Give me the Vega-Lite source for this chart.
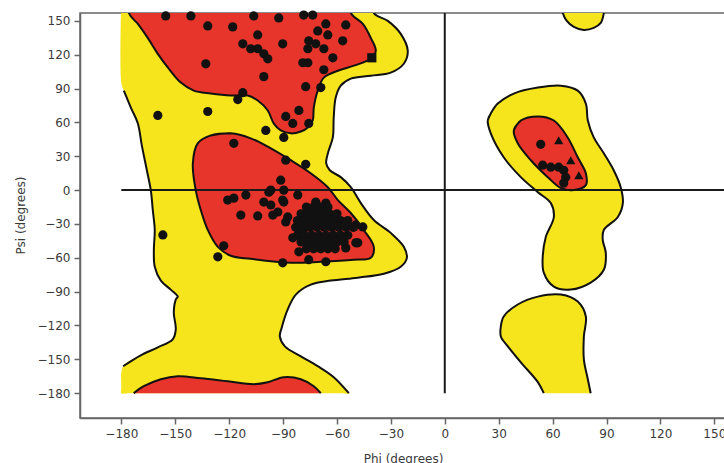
{
  "$schema": "https://vega.github.io/schema/vega-lite/v6.json",
  "width": 646,
  "height": 405,
  "autosize": "none",
  "padding": {"left": 80, "top": 13, "right": 0, "bottom": 45},
  "background": "white",
  "config": {
    "font": "DejaVu Sans",
    "view": {"stroke": "#666", "strokeWidth": 1.5},
    "axis": {"grid": false, "labelFontSize": 12, "titleFontSize": 12, "titleFontWeight": "normal", "labelColor": "#3a3a3a", "titleColor": "#3a3a3a", "domainColor": "#666", "tickColor": "#666", "domainWidth": 1.5, "tickWidth": 1.5, "tickSize": 6, "labelPadding": 4}
  },
  "datasets": {
    "poly": [
      {"g":"Y1","c":"y","s":null,"i":0,"phi":-180,"psi":180},
      {"g":"Y1","c":"y","s":"Y1a","i":1,"phi":-40,"psi":180},
      {"g":"Y1","c":"y","s":"Y1a","i":2,"phi":-39.5,"psi":157},
      {"g":"Y1","c":"y","s":"Y1a","i":3,"phi":-31.7,"psi":150},
      {"g":"Y1","c":"y","s":"Y1a","i":4,"phi":-24.5,"psi":138.5},
      {"g":"Y1","c":"y","s":"Y1a","i":5,"phi":-20.6,"psi":123.5},
      {"g":"Y1","c":"y","s":"Y1a","i":6,"phi":-22.8,"psi":112},
      {"g":"Y1","c":"y","s":"Y1a","i":7,"phi":-30.1,"psi":104.1},
      {"g":"Y1","c":"y","s":"Y1a","i":8,"phi":-41.2,"psi":101.4},
      {"g":"Y1","c":"y","s":"Y1a","i":9,"phi":-52.3,"psi":98.8},
      {"g":"Y1","c":"y","s":"Y1a","i":10,"phi":-57.9,"psi":92.6},
      {"g":"Y1","c":"y","s":"Y1a","i":11,"phi":-60.7,"psi":82},
      {"g":"Y1","c":"y","s":"Y1a","i":12,"phi":-61.8,"psi":64.4},
      {"g":"Y1","c":"y","s":"Y1a","i":13,"phi":-62.3,"psi":46.7},
      {"g":"Y1","c":"y","s":"Y1a","i":14,"phi":-65,"psi":33},
      {"g":"Y1","c":"y","s":"Y1a","i":15,"phi":-66,"psi":24},
      {"g":"Y1","c":"y","s":"Y1a","i":16,"phi":-64,"psi":17.6},
      {"g":"Y1","c":"y","s":"Y1a","i":17,"phi":-57.9,"psi":11.5},
      {"g":"Y1","c":"y","s":"Y1a","i":18,"phi":-52.3,"psi":2.6},
      {"g":"Y1","c":"y","s":"Y1a","i":19,"phi":-46.7,"psi":-11.5},
      {"g":"Y1","c":"y","s":"Y1a","i":20,"phi":-39.5,"psi":-26.5},
      {"g":"Y1","c":"y","s":"Y1a","i":21,"phi":-30.1,"psi":-37.9},
      {"g":"Y1","c":"y","s":"Y1a","i":22,"phi":-22.8,"psi":-50.3},
      {"g":"Y1","c":"y","s":"Y1a","i":23,"phi":-21.1,"psi":-60},
      {"g":"Y1","c":"y","s":"Y1a","i":24,"phi":-24.5,"psi":-67.9},
      {"g":"Y1","c":"y","s":"Y1a","i":25,"phi":-33.9,"psi":-74.1},
      {"g":"Y1","c":"y","s":"Y1a","i":26,"phi":-48.4,"psi":-77.6},
      {"g":"Y1","c":"y","s":"Y1a","i":27,"phi":-63.4,"psi":-80.2},
      {"g":"Y1","c":"y","s":"Y1a","i":28,"phi":-74.6,"psi":-83.8},
      {"g":"Y1","c":"y","s":"Y1a","i":29,"phi":-82.9,"psi":-92.6},
      {"g":"Y1","c":"y","s":"Y1a","i":30,"phi":-87.4,"psi":-105.8},
      {"g":"Y1","c":"y","s":"Y1a","i":31,"phi":-90.7,"psi":-121.7},
      {"g":"Y1","c":"y","s":"Y1a","i":32,"phi":-91.8,"psi":-129.7},
      {"g":"Y1","c":"y","s":"Y1a","i":33,"phi":-89,"psi":-138.5},
      {"g":"Y1","c":"y","s":"Y1a","i":34,"phi":-80.1,"psi":-147.3},
      {"g":"Y1","c":"y","s":"Y1a","i":35,"phi":-70.7,"psi":-156.1},
      {"g":"Y1","c":"y","s":"Y1a","i":36,"phi":-61.8,"psi":-165.8},
      {"g":"Y1","c":"y","s":"Y1a","i":37,"phi":-53.4,"psi":-180},
      {"g":"Y1","c":"y","s":null,"i":38,"phi":-58,"psi":-180},
      {"g":"Y1","c":"y","s":null,"i":39,"phi":-175,"psi":-180},
      {"g":"Y1","c":"y","s":null,"i":40,"phi":-180,"psi":-180},
      {"g":"Y1","c":"y","s":null,"i":41,"phi":-180,"psi":-175},
      {"g":"Y1","c":"y","s":"Y1b","i":42,"phi":-179,"psi":-156.1},
      {"g":"Y1","c":"y","s":"Y1b","i":43,"phi":-169.2,"psi":-146.4},
      {"g":"Y1","c":"y","s":"Y1b","i":44,"phi":-159.7,"psi":-139.4},
      {"g":"Y1","c":"y","s":"Y1b","i":45,"phi":-151.4,"psi":-132.3},
      {"g":"Y1","c":"y","s":"Y1b","i":46,"phi":-149.7,"psi":-123.5},
      {"g":"Y1","c":"y","s":"Y1b","i":47,"phi":-150.8,"psi":-108.5},
      {"g":"Y1","c":"y","s":"Y1b","i":48,"phi":-149.7,"psi":-97},
      {"g":"Y1","c":"y","s":"Y1b","i":49,"phi":-148.6,"psi":-94.4},
      {"g":"Y1","c":"y","s":"Y1b","i":50,"phi":-152.5,"psi":-88.2},
      {"g":"Y1","c":"y","s":"Y1b","i":51,"phi":-158,"psi":-80.2},
      {"g":"Y1","c":"y","s":"Y1b","i":52,"phi":-161.4,"psi":-67.9},
      {"g":"Y1","c":"y","s":"Y1b","i":53,"phi":-161.9,"psi":-52.9},
      {"g":"Y1","c":"y","s":"Y1b","i":54,"phi":-161.4,"psi":-35.3},
      {"g":"Y1","c":"y","s":"Y1b","i":55,"phi":-162.5,"psi":-17.6},
      {"g":"Y1","c":"y","s":"Y1b","i":56,"phi":-163.6,"psi":0},
      {"g":"Y1","c":"y","s":"Y1b","i":57,"phi":-165.8,"psi":17.6},
      {"g":"Y1","c":"y","s":"Y1b","i":58,"phi":-168.6,"psi":39.7},
      {"g":"Y1","c":"y","s":"Y1b","i":59,"phi":-170.8,"psi":59.1},
      {"g":"Y1","c":"y","s":"Y1b","i":60,"phi":-174.7,"psi":73.2},
      {"g":"Y1","c":"y","s":"Y1b","i":61,"phi":-178.6,"psi":88.2},
      {"g":"Y1","c":"y","s":null,"i":62,"phi":-180,"psi":95},
      {"g":"Y1","c":"y","s":null,"i":63,"phi":-180,"psi":170},

      {"g":"Y2","c":"y","s":"Y2","i":0,"phi":65,"psi":180},
      {"g":"Y2","c":"y","s":"Y2","i":1,"phi":65.7,"psi":157},
      {"g":"Y2","c":"y","s":"Y2","i":2,"phi":67.9,"psi":150},
      {"g":"Y2","c":"y","s":"Y2","i":3,"phi":71.8,"psi":144.7},
      {"g":"Y2","c":"y","s":"Y2","i":4,"phi":77.4,"psi":142},
      {"g":"Y2","c":"y","s":"Y2","i":5,"phi":82.9,"psi":143.8},
      {"g":"Y2","c":"y","s":"Y2","i":6,"phi":86.8,"psi":148.2},
      {"g":"Y2","c":"y","s":"Y2","i":7,"phi":88.5,"psi":157},
      {"g":"Y2","c":"y","s":"Y2","i":8,"phi":89,"psi":180},

      {"g":"Y3","c":"y","s":"Y3","i":0,"phi":23.9,"psi":61.7},
      {"g":"Y3","c":"y","s":"Y3","i":1,"phi":25.6,"psi":67.9},
      {"g":"Y3","c":"y","s":"Y3","i":2,"phi":29.5,"psi":76.7},
      {"g":"Y3","c":"y","s":"Y3","i":3,"phi":38.4,"psi":85.6},
      {"g":"Y3","c":"y","s":"Y3","i":4,"phi":51.8,"psi":90.9},
      {"g":"Y3","c":"y","s":"Y3","i":5,"phi":64.6,"psi":92.6},
      {"g":"Y3","c":"y","s":"Y3","i":6,"phi":74,"psi":88.2},
      {"g":"Y3","c":"y","s":"Y3","i":7,"phi":78.5,"psi":76.7},
      {"g":"Y3","c":"y","s":"Y3","i":8,"phi":79.6,"psi":61.7},
      {"g":"Y3","c":"y","s":"Y3","i":9,"phi":82.9,"psi":46.7},
      {"g":"Y3","c":"y","s":"Y3","i":10,"phi":88.5,"psi":32.6},
      {"g":"Y3","c":"y","s":"Y3","i":11,"phi":94,"psi":17.6},
      {"g":"Y3","c":"y","s":"Y3","i":12,"phi":97.9,"psi":2.6},
      {"g":"Y3","c":"y","s":"Y3","i":13,"phi":99.1,"psi":-11.5},
      {"g":"Y3","c":"y","s":"Y3","i":14,"phi":96.3,"psi":-23.8},
      {"g":"Y3","c":"y","s":"Y3","i":15,"phi":88.5,"psi":-35.3},
      {"g":"Y3","c":"y","s":"Y3","i":16,"phi":87.9,"psi":-44.1},
      {"g":"Y3","c":"y","s":"Y3","i":17,"phi":89.6,"psi":-55.6},
      {"g":"Y3","c":"y","s":"Y3","i":18,"phi":88.5,"psi":-70.6},
      {"g":"Y3","c":"y","s":"Y3","i":19,"phi":81.2,"psi":-82},
      {"g":"Y3","c":"y","s":"Y3","i":20,"phi":70.1,"psi":-88.2},
      {"g":"Y3","c":"y","s":"Y3","i":21,"phi":60.7,"psi":-85.6},
      {"g":"Y3","c":"y","s":"Y3","i":22,"phi":55.1,"psi":-73.2},
      {"g":"Y3","c":"y","s":"Y3","i":23,"phi":54.5,"psi":-59.1},
      {"g":"Y3","c":"y","s":"Y3","i":24,"phi":56.2,"psi":-41.5},
      {"g":"Y3","c":"y","s":"Y3","i":25,"phi":60.7,"psi":-23.8},
      {"g":"Y3","c":"y","s":"Y3","i":26,"phi":59,"psi":-11.5},
      {"g":"Y3","c":"y","s":"Y3","i":27,"phi":51.8,"psi":-1.8},
      {"g":"Y3","c":"y","s":"Y3","i":28,"phi":42.3,"psi":11.5},
      {"g":"Y3","c":"y","s":"Y3","i":29,"phi":32.8,"psi":29.1},
      {"g":"Y3","c":"y","s":"Y3","i":30,"phi":25.6,"psi":50.3},
      {"g":"Y3","c":"y","s":"Y3","i":31,"phi":23.9,"psi":61.7},
      {"g":"Y3","c":"y","s":"Y3","i":32,"phi":25.6,"psi":67.9},

      {"g":"Y4","c":"y","s":"Y4","i":0,"phi":55.1,"psi":-180},
      {"g":"Y4","c":"y","s":"Y4","i":1,"phi":51.8,"psi":-170.2},
      {"g":"Y4","c":"y","s":"Y4","i":2,"phi":42.3,"psi":-152.6},
      {"g":"Y4","c":"y","s":"Y4","i":3,"phi":35.1,"psi":-138.5},
      {"g":"Y4","c":"y","s":"Y4","i":4,"phi":31.2,"psi":-129.7},
      {"g":"Y4","c":"y","s":"Y4","i":5,"phi":31.2,"psi":-120.8},
      {"g":"Y4","c":"y","s":"Y4","i":6,"phi":32.8,"psi":-112},
      {"g":"Y4","c":"y","s":"Y4","i":7,"phi":40.6,"psi":-101.4},
      {"g":"Y4","c":"y","s":"Y4","i":8,"phi":51.8,"psi":-94.4},
      {"g":"Y4","c":"y","s":"Y4","i":9,"phi":64.6,"psi":-92.6},
      {"g":"Y4","c":"y","s":"Y4","i":10,"phi":74,"psi":-98.8},
      {"g":"Y4","c":"y","s":"Y4","i":11,"phi":78.5,"psi":-112},
      {"g":"Y4","c":"y","s":"Y4","i":12,"phi":77.4,"psi":-129.7},
      {"g":"Y4","c":"y","s":"Y4","i":13,"phi":77.4,"psi":-150},
      {"g":"Y4","c":"y","s":"Y4","i":14,"phi":79.6,"psi":-167.6},
      {"g":"Y4","c":"y","s":"Y4","i":15,"phi":81.2,"psi":-180},

      {"g":"R1","c":"r","s":"R1","i":0,"phi":-176,"psi":180},
      {"g":"R1","c":"r","s":"R1","i":1,"phi":-175.8,"psi":157},
      {"g":"R1","c":"r","s":"R1","i":2,"phi":-170.8,"psi":147.3},
      {"g":"R1","c":"r","s":"R1","i":3,"phi":-165.3,"psi":135},
      {"g":"R1","c":"r","s":"R1","i":4,"phi":-159.7,"psi":120.8},
      {"g":"R1","c":"r","s":"R1","i":5,"phi":-153.6,"psi":107.6},
      {"g":"R1","c":"r","s":"R1","i":6,"phi":-146.9,"psi":95.3},
      {"g":"R1","c":"r","s":"R1","i":7,"phi":-139.7,"psi":88.2},
      {"g":"R1","c":"r","s":"R1","i":8,"phi":-130.2,"psi":85.6},
      {"g":"R1","c":"r","s":"R1","i":9,"phi":-119.1,"psi":83.8},
      {"g":"R1","c":"r","s":"R1","i":10,"phi":-109.6,"psi":83.8},
      {"g":"R1","c":"r","s":"R1","i":11,"phi":-104.1,"psi":79.4},
      {"g":"R1","c":"r","s":"R1","i":12,"phi":-98.5,"psi":70.6},
      {"g":"R1","c":"r","s":"R1","i":13,"phi":-95.2,"psi":59.1},
      {"g":"R1","c":"r","s":"R1","i":14,"phi":-91.3,"psi":52.9},
      {"g":"R1","c":"r","s":"R1","i":15,"phi":-85.7,"psi":50.3},
      {"g":"R1","c":"r","s":"R1","i":16,"phi":-80.1,"psi":52},
      {"g":"R1","c":"r","s":"R1","i":17,"phi":-76.2,"psi":55.6},
      {"g":"R1","c":"r","s":"R1","i":18,"phi":-73.5,"psi":61.7},
      {"g":"R1","c":"r","s":"R1","i":19,"phi":-72.9,"psi":73.2},
      {"g":"R1","c":"r","s":"R1","i":20,"phi":-70.7,"psi":88.2},
      {"g":"R1","c":"r","s":"R1","i":21,"phi":-67.3,"psi":99.7},
      {"g":"R1","c":"r","s":"R1","i":22,"phi":-59.5,"psi":105.8},
      {"g":"R1","c":"r","s":"R1","i":23,"phi":-50.6,"psi":110.3},
      {"g":"R1","c":"r","s":"R1","i":24,"phi":-41.2,"psi":116.4},
      {"g":"R1","c":"r","s":"R1","i":25,"phi":-38.4,"psi":123.5},
      {"g":"R1","c":"r","s":"R1","i":26,"phi":-41.2,"psi":135},
      {"g":"R1","c":"r","s":"R1","i":27,"phi":-45.6,"psi":147.3},
      {"g":"R1","c":"r","s":"R1","i":28,"phi":-52.3,"psi":157},
      {"g":"R1","c":"r","s":"R1","i":29,"phi":-55,"psi":180},

      {"g":"R2","c":"r","s":"R2","i":0,"phi":-130.2,"psi":48.5},
      {"g":"R2","c":"r","s":"R2","i":1,"phi":-119.1,"psi":50.3},
      {"g":"R2","c":"r","s":"R2","i":2,"phi":-108,"psi":45.9},
      {"g":"R2","c":"r","s":"R2","i":3,"phi":-96.8,"psi":37},
      {"g":"R2","c":"r","s":"R2","i":4,"phi":-85.7,"psi":26.5},
      {"g":"R2","c":"r","s":"R2","i":5,"phi":-74.6,"psi":15},
      {"g":"R2","c":"r","s":"R2","i":6,"phi":-65.1,"psi":2.6},
      {"g":"R2","c":"r","s":"R2","i":7,"phi":-59.5,"psi":-8.8},
      {"g":"R2","c":"r","s":"R2","i":8,"phi":-52.3,"psi":-20.3},
      {"g":"R2","c":"r","s":"R2","i":9,"phi":-45.1,"psi":-35.3},
      {"g":"R2","c":"r","s":"R2","i":10,"phi":-39.5,"psi":-50.3},
      {"g":"R2","c":"r","s":"R2","i":11,"phi":-41.2,"psi":-60},
      {"g":"R2","c":"r","s":"R2","i":12,"phi":-50.6,"psi":-61.7},
      {"g":"R2","c":"r","s":"R2","i":13,"phi":-69,"psi":-63.5},
      {"g":"R2","c":"r","s":"R2","i":14,"phi":-85.7,"psi":-64.4},
      {"g":"R2","c":"r","s":"R2","i":15,"phi":-108,"psi":-60.9},
      {"g":"R2","c":"r","s":"R2","i":16,"phi":-119.1,"psi":-58.2},
      {"g":"R2","c":"r","s":"R2","i":17,"phi":-126.3,"psi":-50.3},
      {"g":"R2","c":"r","s":"R2","i":18,"phi":-131.9,"psi":-35.3},
      {"g":"R2","c":"r","s":"R2","i":19,"phi":-135.8,"psi":-17.6},
      {"g":"R2","c":"r","s":"R2","i":20,"phi":-138.6,"psi":0},
      {"g":"R2","c":"r","s":"R2","i":21,"phi":-140.2,"psi":23.8},
      {"g":"R2","c":"r","s":"R2","i":22,"phi":-137.5,"psi":41.5},
      {"g":"R2","c":"r","s":"R2","i":23,"phi":-130.2,"psi":48.5},
      {"g":"R2","c":"r","s":"R2","i":24,"phi":-119.1,"psi":50.3},

      {"g":"R3","c":"r","s":"R3","i":0,"phi":-173.1,"psi":-180},
      {"g":"R3","c":"r","s":"R3","i":1,"phi":-167.5,"psi":-173.8},
      {"g":"R3","c":"r","s":"R3","i":2,"phi":-158,"psi":-167.6},
      {"g":"R3","c":"r","s":"R3","i":3,"phi":-148.6,"psi":-165},
      {"g":"R3","c":"r","s":"R3","i":4,"phi":-135.8,"psi":-166.7},
      {"g":"R3","c":"r","s":"R3","i":5,"phi":-120.8,"psi":-169.4},
      {"g":"R3","c":"r","s":"R3","i":6,"phi":-106.3,"psi":-172},
      {"g":"R3","c":"r","s":"R3","i":7,"phi":-98.5,"psi":-170.3},
      {"g":"R3","c":"r","s":"R3","i":8,"phi":-89.6,"psi":-165.8},
      {"g":"R3","c":"r","s":"R3","i":9,"phi":-80.1,"psi":-167.6},
      {"g":"R3","c":"r","s":"R3","i":10,"phi":-72.9,"psi":-173.8},
      {"g":"R3","c":"r","s":"R3","i":11,"phi":-69,"psi":-180},

      {"g":"R4","c":"r","s":"R4","i":0,"phi":38.4,"psi":52.9},
      {"g":"R4","c":"r","s":"R4","i":1,"phi":42.3,"psi":61.7},
      {"g":"R4","c":"r","s":"R4","i":2,"phi":51.8,"psi":65.3},
      {"g":"R4","c":"r","s":"R4","i":3,"phi":60.7,"psi":61.7},
      {"g":"R4","c":"r","s":"R4","i":4,"phi":68.4,"psi":46.7},
      {"g":"R4","c":"r","s":"R4","i":5,"phi":74,"psi":29.1},
      {"g":"R4","c":"r","s":"R4","i":6,"phi":78.5,"psi":15},
      {"g":"R4","c":"r","s":"R4","i":7,"phi":78.5,"psi":4.4},
      {"g":"R4","c":"r","s":"R4","i":8,"phi":71.8,"psi":0},
      {"g":"R4","c":"r","s":"R4","i":9,"phi":64.6,"psi":1.8},
      {"g":"R4","c":"r","s":"R4","i":10,"phi":57.3,"psi":11.5},
      {"g":"R4","c":"r","s":"R4","i":11,"phi":47.9,"psi":26.5},
      {"g":"R4","c":"r","s":"R4","i":12,"phi":40.6,"psi":41.5},
      {"g":"R4","c":"r","s":"R4","i":13,"phi":38.4,"psi":52.9},
      {"g":"R4","c":"r","s":"R4","i":14,"phi":42.3,"psi":61.7}
    ],
    "rules": [
      {"phi1": -180, "phi2": 170, "psi1": 0, "psi2": 0},
      {"phi1": 0, "phi2": 0, "psi1": -180, "psi2": 170}
    ],
    "pts": [
      {"m":"c","phi":-155.3,"psi":154.4},{"m":"c","phi":-141.3,"psi":154.4},{"m":"c","phi":-106.3,"psi":154.4},
      {"m":"c","phi":-92.4,"psi":152.6},{"m":"c","phi":-78.5,"psi":155.2},{"m":"c","phi":-73.5,"psi":155.2},
      {"m":"c","phi":-131.9,"psi":145.5},{"m":"c","phi":-118,"psi":144.7},{"m":"c","phi":-104.1,"psi":137.6},
      {"m":"c","phi":-112.4,"psi":129.7},{"m":"c","phi":-108,"psi":125.3},{"m":"c","phi":-104.1,"psi":125.3},
      {"m":"c","phi":-100.7,"psi":120.8},{"m":"c","phi":-98.5,"psi":116.4},{"m":"c","phi":-90.2,"psi":129.7},
      {"m":"c","phi":-133,"psi":112},{"m":"c","phi":-100.7,"psi":100.6},{"m":"c","phi":-112.4,"psi":86.4},
      {"m":"c","phi":-115.2,"psi":80.3},{"m":"c","phi":-159.7,"psi":66.2},{"m":"c","phi":-131.9,"psi":69.7},
      {"m":"c","phi":-99.6,"psi":52.9},{"m":"c","phi":-88.5,"psi":65.3},{"m":"c","phi":-89.6,"psi":46.7},
      {"m":"c","phi":-117.4,"psi":41.5},{"m":"c","phi":-66.2,"psi":147.3},{"m":"c","phi":-55.1,"psi":146.4},
      {"m":"c","phi":-70.7,"psi":141.1},{"m":"c","phi":-65.1,"psi":137.6},{"m":"c","phi":-56.8,"psi":132.3},
      {"m":"c","phi":-75.7,"psi":132.3},{"m":"c","phi":-71.8,"psi":129.7},{"m":"c","phi":-76.2,"psi":125.3},
      {"m":"c","phi":-67.3,"psi":125.3},{"m":"c","phi":-79,"psi":112.9},{"m":"c","phi":-76.2,"psi":112.9},
      {"m":"c","phi":-62.3,"psi":117.3},{"m":"c","phi":-67.3,"psi":106.7},{"m":"c","phi":-77.4,"psi":91.7},
      {"m":"c","phi":-69,"psi":90.9},{"m":"c","phi":-81.2,"psi":70.6},{"m":"c","phi":-84.6,"psi":59.1},
      {"m":"c","phi":-75.7,"psi":59.1},
      {"m":"s","phi":-40.6,"psi":117.3},
      {"m":"c","phi":-88.5,"psi":26.5},{"m":"c","phi":-77.4,"psi":22.9},{"m":"c","phi":-91.3,"psi":8.8},
      {"m":"c","phi":-96.8,"psi":0},{"m":"c","phi":-89.6,"psi":0},{"m":"c","phi":-110.7,"psi":-4.4},
      {"m":"c","phi":-120.8,"psi":-8.8},{"m":"c","phi":-117.4,"psi":-7.1},{"m":"c","phi":-113.5,"psi":-22.1},
      {"m":"c","phi":-104.1,"psi":-22.9},{"m":"c","phi":-100.7,"psi":-10.6},{"m":"c","phi":-96.8,"psi":-13.2},
      {"m":"c","phi":-92.9,"psi":-19.4},{"m":"c","phi":-89.6,"psi":-10.6},{"m":"c","phi":-87.4,"psi":-23.8},
      {"m":"c","phi":-123,"psi":-49.4},{"m":"c","phi":-126.3,"psi":-59.1},{"m":"c","phi":-90.2,"psi":-64.4},
      {"m":"c","phi":-156.9,"psi":-39.7},{"m":"c","phi":-75.7,"psi":-61.7},{"m":"c","phi":-66.2,"psi":-63.5},
      {"m":"c","phi":-48.4,"psi":-46.7},{"m":"c","phi":-50.6,"psi":-32.6},
      {"m":"c","phi":-95.7,"psi":-22.1},{"m":"c","phi":-90.2,"psi":-8.8},{"m":"c","phi":-97.9,"psi":-1.8},
      {"m":"c","phi":-81.8,"psi":-4.4},{"m":"c","phi":-71.8,"psi":-10.6},{"m":"c","phi":-66.2,"psi":-11.5},
      {"m":"c","phi":-49.5,"psi":-30.9},{"m":"c","phi":-45.6,"psi":-32.6},{"m":"c","phi":-49.5,"psi":-46.7},
      {"m":"c","phi":-55.1,"psi":-51.2},{"m":"c","phi":-81.2,"psi":-54.7},{"m":"c","phi":-84.6,"psi":-42.3},
      {"m":"c","phi":-88.5,"psi":-28.2},{"m":"c","phi":-79,"psi":-37},
      {"m":"c","phi":-77,"psi":-15},{"m":"c","phi":-73,"psi":-15},{"m":"c","phi":-69,"psi":-15},{"m":"c","phi":-65,"psi":-15},
      {"m":"c","phi":-80,"psi":-21},{"m":"c","phi":-76,"psi":-21},{"m":"c","phi":-72,"psi":-21},{"m":"c","phi":-68,"psi":-21},{"m":"c","phi":-64,"psi":-21},{"m":"c","phi":-60,"psi":-21},
      {"m":"c","phi":-82,"psi":-27},{"m":"c","phi":-78,"psi":-27},{"m":"c","phi":-74,"psi":-27},{"m":"c","phi":-70,"psi":-27},{"m":"c","phi":-66,"psi":-27},{"m":"c","phi":-62,"psi":-27},{"m":"c","phi":-58,"psi":-27},{"m":"c","phi":-54,"psi":-27},
      {"m":"c","phi":-83,"psi":-33},{"m":"c","phi":-79,"psi":-33},{"m":"c","phi":-75,"psi":-33},{"m":"c","phi":-71,"psi":-33},{"m":"c","phi":-67,"psi":-33},{"m":"c","phi":-63,"psi":-33},{"m":"c","phi":-59,"psi":-33},{"m":"c","phi":-55,"psi":-33},{"m":"c","phi":-51,"psi":-33},
      {"m":"c","phi":-82,"psi":-40},{"m":"c","phi":-78,"psi":-40},{"m":"c","phi":-74,"psi":-40},{"m":"c","phi":-70,"psi":-40},{"m":"c","phi":-66,"psi":-40},{"m":"c","phi":-62,"psi":-40},{"m":"c","phi":-58,"psi":-40},{"m":"c","phi":-54,"psi":-40},
      {"m":"c","phi":-80,"psi":-46},{"m":"c","phi":-76,"psi":-46},{"m":"c","phi":-72,"psi":-46},{"m":"c","phi":-68,"psi":-46},{"m":"c","phi":-64,"psi":-46},{"m":"c","phi":-60,"psi":-46},{"m":"c","phi":-56,"psi":-46},
      {"m":"c","phi":-77,"psi":-52},{"m":"c","phi":-73,"psi":-52},{"m":"c","phi":-69,"psi":-52},{"m":"c","phi":-65,"psi":-52},{"m":"c","phi":-61,"psi":-52},
      {"m":"c","phi":53.4,"psi":40.6},{"m":"c","phi":54.5,"psi":22.1},{"m":"c","phi":59,"psi":20.3},
      {"m":"c","phi":63.4,"psi":20.3},{"m":"c","phi":66.2,"psi":17.6},{"m":"c","phi":67.3,"psi":11.5},
      {"m":"c","phi":66.2,"psi":6.2},
      {"m":"t","phi":63.4,"psi":44.1},{"m":"t","phi":70.1,"psi":26.5},{"m":"t","phi":74.6,"psi":13.2}
    ]
  },
  "encoding": {
    "x": {"field": "phi", "type": "quantitative", "scale": {"domain": [-203, 156.5], "zero": false, "nice": false},
      "axis": {"values": [-180,-150,-120,-90,-60,-30,0,30,60,90,120,150], "title": "Phi (degrees)", "titleY": 40, "titleBaseline": "middle"}},
    "y": {"field": "psi", "type": "quantitative", "scale": {"domain": [-202, 157], "zero": false, "nice": false},
      "axis": {"values": [-180,-150,-120,-90,-60,-30,0,30,60,90,120,150], "title": "Psi (degrees)", "titleX": -60, "titleY": 202, "titleBaseline": "middle"}}
  },
  "layer": [
    {
      "data": {"name": "poly"},
      "transform": [{"filter": "datum.c === 'y'"}],
      "mark": {"type": "line", "fill": "#f6e51d", "strokeOpacity": 0, "clip": true, "interpolate": "catmull-rom"},
      "encoding": {"detail": {"field": "g"}, "order": {"field": "i", "type": "quantitative"}}
    },
    {
      "data": {"name": "poly"},
      "transform": [{"filter": "datum.c === 'r'"}],
      "mark": {"type": "line", "fill": "#e8352b", "strokeOpacity": 0, "clip": true, "interpolate": "catmull-rom"},
      "encoding": {"detail": {"field": "g"}, "order": {"field": "i", "type": "quantitative"}}
    },
    {
      "data": {"name": "rules"},
      "mark": {"type": "rule", "color": "#1a1a1a", "strokeWidth": 2, "clip": true},
      "encoding": {
        "x": {"field": "phi1", "type": "quantitative"},
        "x2": {"field": "phi2"},
        "y": {"field": "psi1", "type": "quantitative"},
        "y2": {"field": "psi2"}
      }
    },
    {
      "data": {"name": "poly"},
      "transform": [{"filter": "datum.s != null"}],
      "mark": {"type": "line", "color": "#111", "strokeWidth": 2, "clip": true, "interpolate": "catmull-rom"},
      "encoding": {"detail": {"field": "s"}, "order": {"field": "i", "type": "quantitative"}}
    },
    {
      "data": {"name": "pts"},
      "mark": {"type": "point", "filled": true, "opacity": 1, "color": "#111", "size": 85},
      "encoding": {
        "shape": {"field": "m", "type": "nominal", "scale": {"domain": ["c","t","s"], "range": ["circle","triangle-up","square"]}, "legend": null}
      }
    }
  ]
}
